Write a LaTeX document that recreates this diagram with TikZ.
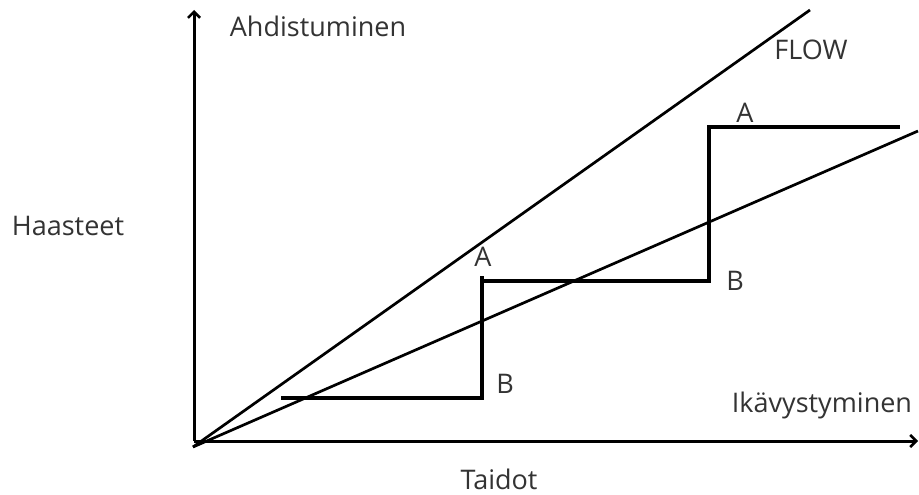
\documentclass[tikz,border=0pt]{standalone}
\usepackage{fontspec}
\setmainfont{Open Sans}
\usetikzlibrary{arrows.meta}
\begin{document}
\begin{tikzpicture}[x=1pt,y=-1pt,
  axis/.style={line width=3pt,-{Straight Barb[length=6pt,width=12pt,line width=2.6pt]}},
  ray/.style={line width=2.7pt},
  stair/.style={line width=3.3pt},
  lbl/.style={font=\fontsize{27}{31}\selectfont,text=black!80,inner sep=0pt}]
\useasboundingbox (0,0) rectangle (919,495);
\fill[white] (0,0) rectangle (919,495);
\coordinate (O) at (194,441);
\coordinate (yt) at (194,10);
\coordinate (xt) at (918,441);
\coordinate (c0) at (193,447);
\coordinate (f1) at (810,10);
\coordinate (l1) at (918,131);
\coordinate (s0) at (281,398);
\coordinate (s1) at (482,398);
\coordinate (s2) at (482,276);
\coordinate (s2b) at (482,281);
\coordinate (s3) at (709,281);
\coordinate (s4) at (709,127);
\coordinate (s5) at (900,127);
\draw[axis] (O) -- (yt);
\draw[axis] (O) -- (xt);
\draw[ray] (c0) -- (f1);
\draw[ray] (c0) -- (l1);
\draw[stair] (s0) -- (s1) -- (s2);
\draw[stair] (s2b) -- (s3) -- (s4) -- (s5);
\node[lbl] (ahd) at (318,26) {Ahdistuminen};
\node[lbl] (flow) at (811,50) {FLOW};
\node[lbl] (haa) at (68,226) {Haasteet};
\node[lbl] (ika) at (822,405) {Ikävystyminen};
\node[lbl] (tai) at (499,479) {Taidot};
\node[lbl] (a1) at (483,257) {A};
\node[lbl] (b1) at (505,384) {B};
\node[lbl] (b2) at (735,281) {B};
\node[lbl] (a2) at (745,113) {A};
\end{tikzpicture}
\end{document}
